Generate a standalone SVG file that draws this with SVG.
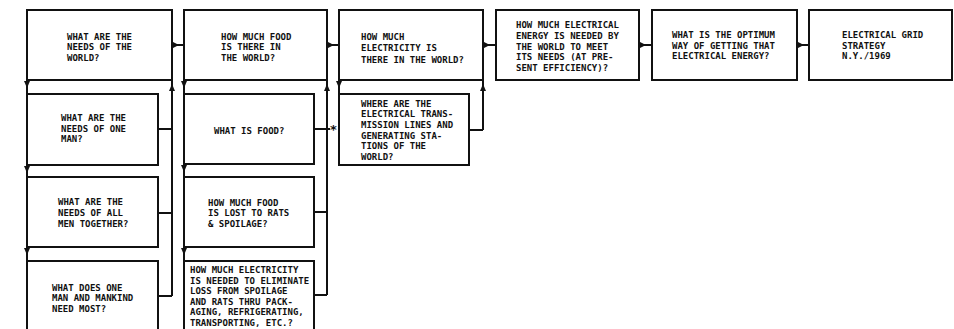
<svg xmlns="http://www.w3.org/2000/svg" width="954" height="329" viewBox="0 0 954 329">
<style>
.box{fill:#fff;stroke:#111;stroke-width:2}
.ln{fill:none;stroke:#111;stroke-width:2}
.ah{fill:#111}
.t{font-family:"DejaVu Sans Mono","Liberation Mono",monospace;font-size:9px;font-weight:bold;fill:#111}
.star{font-family:"DejaVu Sans","Liberation Sans",sans-serif;font-size:13px;font-weight:bold;fill:#111}
</style>
<defs>
<path id="dn" d="M-3,0 L3,0 L0,7 Z"/>
<path id="up" d="M-3,7 L3,7 L0,0 Z"/>
<path id="wg" d="M0,-3 L0,3 L6,0 Z"/>
</defs>
<rect width="954" height="329" fill="#fff"/>
<g id="connectors">
<path class="ln" d="M27,80 V94 M27,165 V177 M27,247 V261"/>
<path class="ln" d="M158,129 H172 M158,213 H172 M158,296 H172 M172,80 V296"/>
<path class="ln" d="M184,80 V94 M184,164 V177 M184,247 V261"/>
<path class="ln" d="M314,129 H330 M314,212 H327 M314,295 H327 M327,80 V295"/>
<path class="ln" d="M339,80 V94 M469,130 H483 M483,80 V130"/>
<path class="ln" d="M172,45 H184 M327,45 H339 M483,45 H496 M639,45 H652 M797,45 H809"/>
<g class="ah">
<use href="#dn" x="27" y="81"/><use href="#dn" x="27" y="166"/><use href="#dn" x="27" y="248"/>
<use href="#dn" x="184" y="81"/><use href="#dn" x="184" y="165"/><use href="#dn" x="184" y="248"/>
<use href="#dn" x="339" y="81"/>
<use href="#up" x="172" y="84"/><use href="#up" x="327" y="84"/><use href="#up" x="483" y="84"/>
<use href="#wg" x="173" y="45"/><use href="#wg" x="328" y="45"/><use href="#wg" x="484" y="45"/><use href="#wg" x="640" y="45"/><use href="#wg" x="798" y="45"/>
</g>
<text class="star" x="333.5" y="134" text-anchor="middle">*</text>
</g>
<g id="n1"><rect class="box" x="27" y="10" width="145" height="70"/>
<text class="t" x="67" y="39.5">WHAT ARE THE</text><text class="t" x="67" y="50">NEEDS OF THE</text><text class="t" x="67" y="60.5">WORLD?</text></g>
<g id="n2"><rect class="box" x="27" y="94" width="131" height="71"/>
<text class="t" x="61" y="121">WHAT ARE THE</text><text class="t" x="61" y="131.5">NEEDS OF ONE</text><text class="t" x="61" y="142">MAN?</text></g>
<g id="n3"><rect class="box" x="27" y="177" width="131" height="70"/>
<text class="t" x="58" y="205">WHAT ARE THE</text><text class="t" x="58" y="215.7">NEEDS OF ALL</text><text class="t" x="58" y="226.5">MEN TOGETHER?</text></g>
<g id="n4"><rect class="box" x="27" y="261" width="131" height="80"/>
<text class="t" x="52" y="290.5">WHAT DOES ONE</text><text class="t" x="52" y="301">MAN AND MANKIND</text><text class="t" x="52" y="311.5">NEED MOST?</text></g>
<g id="n5"><rect class="box" x="184" y="10" width="143" height="70"/>
<text class="t" x="221" y="39.5">HOW MUCH FOOD</text><text class="t" x="221" y="50">IS THERE IN</text><text class="t" x="221" y="60.5">THE WORLD?</text></g>
<g id="n6"><rect class="box" x="184" y="94" width="130" height="70"/>
<text class="t" x="214" y="134">WHAT IS FOOD?</text></g>
<g id="n7"><rect class="box" x="184" y="177" width="130" height="70"/>
<text class="t" x="208" y="205.5">HOW MUCH FOOD</text><text class="t" x="208" y="216">IS LOST TO RATS</text><text class="t" x="208" y="226.5">&amp; SPOILAGE?</text></g>
<g id="n8"><rect class="box" x="184" y="261" width="130" height="80"/>
<text class="t" x="190" y="273.3">HOW MUCH ELECTRICITY</text><text class="t" x="190" y="283.8">IS NEEDED TO ELIMINATE</text><text class="t" x="190" y="294.3">LOSS FROM SPOILAGE</text><text class="t" x="190" y="304.8">AND RATS THRU PACK-</text><text class="t" x="190" y="315.3">AGING, REFRIGERATING,</text><text class="t" x="190" y="325.8">TRANSPORTING, ETC.?</text></g>
<g id="n9"><rect class="box" x="339" y="10" width="144" height="70"/>
<text class="t" x="361" y="39.5">HOW MUCH</text><text class="t" x="361" y="51">ELECTRICITY IS</text><text class="t" x="361" y="62.5">THERE IN THE WORLD?</text></g>
<g id="n10"><rect class="box" x="339" y="94" width="130" height="71"/>
<text class="t" x="361" y="106.7">WHERE ARE THE</text><text class="t" x="361" y="117.3">ELECTRICAL TRANS-</text><text class="t" x="361" y="127.9">MISSION LINES AND</text><text class="t" x="361" y="138.5">GENERATING STA-</text><text class="t" x="361" y="149.1">TIONS OF THE</text><text class="t" x="361" y="159.7">WORLD?</text></g>
<g id="n11"><rect class="box" x="496" y="10" width="143" height="70"/>
<text class="t" x="516" y="28.3">HOW MUCH ELECTRICAL</text><text class="t" x="516" y="38.9">ENERGY IS NEEDED BY</text><text class="t" x="516" y="49.5">THE WORLD TO MEET</text><text class="t" x="516" y="60.1">ITS NEEDS (AT PRE-</text><text class="t" x="516" y="70.7">SENT EFFICIENCY)?</text></g>
<g id="n12"><rect class="box" x="652" y="10" width="145" height="70"/>
<text class="t" x="672" y="38">WHAT IS THE OPTIMUM</text><text class="t" x="672" y="48.5">WAY OF GETTING THAT</text><text class="t" x="672" y="59">ELECTRICAL ENERGY?</text></g>
<g id="n13"><rect class="box" x="809" y="10" width="143" height="70"/>
<text class="t" x="842" y="38">ELECTRICAL GRID</text><text class="t" x="842" y="48.5">STRATEGY</text><text class="t" x="842" y="59">N.Y./1969</text></g>
</svg>
